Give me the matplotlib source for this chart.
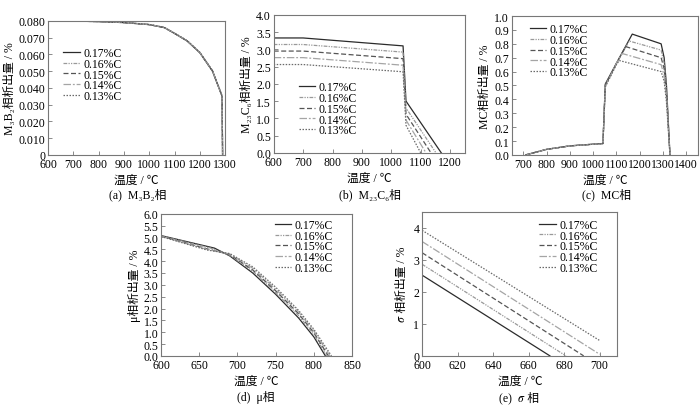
import matplotlib
matplotlib.use('Agg')
import matplotlib.pyplot as plt
from matplotlib.ticker import FuncFormatter

plt.rcParams['font.family'] = ['Liberation Serif', 'Noto Sans CJK SC', 'STIXGeneral', 'DejaVu Serif']
plt.rcParams['font.size'] = 8.5

# 数据
labels = ['0.17%C', '0.16%C', '0.15%C', '0.14%C', '0.13%C']

# (a) M3B2
t_a = [600, 700, 800, 900, 1000, 1060, 1100, 1150, 1200, 1250, 1288, 1290]
m3b2 = [
    [0.0800, 0.0799, 0.0796, 0.0790, 0.0778, 0.0760, 0.0725, 0.0680, 0.0610, 0.0500, 0.0350, 0.0],
    [0.0800, 0.0799, 0.0796, 0.0790, 0.0778, 0.0760, 0.0726, 0.0681, 0.0611, 0.0501, 0.0351, 0.0],
    [0.0800, 0.0799, 0.0796, 0.0790, 0.0778, 0.0760, 0.0726, 0.0681, 0.0611, 0.0502, 0.0352, 0.0],
    [0.0800, 0.0799, 0.0796, 0.0791, 0.0779, 0.0761, 0.0727, 0.0682, 0.0612, 0.0503, 0.0353, 0.0],
    [0.0800, 0.0799, 0.0797, 0.0791, 0.0779, 0.0761, 0.0727, 0.0682, 0.0613, 0.0504, 0.0354, 0.0],
]

# (b) M23C6
t_b = [
    [600, 700, 1040, 1050, 1170],
    [600, 700, 1040, 1050, 1152],
    [600, 700, 1040, 1050, 1135],
    [600, 700, 1040, 1050, 1118],
    [600, 700, 1040, 1050, 1100],
]
m23c6 = [
    [3.33, 3.33, 3.10, 1.50, 0.0],
    [3.14, 3.14, 2.92, 1.30, 0.0],
    [2.95, 2.95, 2.73, 1.12, 0.0],
    [2.76, 2.76, 2.54, 0.95, 0.0],
    [2.56, 2.56, 2.35, 0.80, 0.0],
]

# (c) MC
t_c = [
    [710, 800, 900, 1000, 1042, 1052, 1100, 1168, 1292, 1305, 1315, 1330],
    [710, 800, 900, 1000, 1042, 1052, 1100, 1155, 1292, 1305, 1315, 1330],
    [710, 800, 900, 1000, 1042, 1052, 1100, 1140, 1292, 1305, 1315, 1330],
    [710, 800, 900, 1000, 1042, 1052, 1100, 1125, 1292, 1305, 1315, 1330],
    [710, 800, 900, 1000, 1042, 1052, 1100, 1112, 1292, 1305, 1315, 1330],
]
mc = [
    [0.0, 0.040, 0.065, 0.077, 0.082, 0.51, 0.66, 0.87, 0.80, 0.70, 0.50, 0.0],
    [0.0, 0.040, 0.065, 0.077, 0.082, 0.50, 0.66, 0.82, 0.755, 0.66, 0.47, 0.0],
    [0.0, 0.040, 0.065, 0.077, 0.082, 0.50, 0.66, 0.78, 0.70, 0.62, 0.44, 0.0],
    [0.0, 0.040, 0.065, 0.077, 0.082, 0.49, 0.66, 0.73, 0.65, 0.57, 0.41, 0.0],
    [0.0, 0.040, 0.065, 0.077, 0.082, 0.49, 0.65, 0.68, 0.60, 0.53, 0.38, 0.0],
]

# (d) mu
t_d = [
    [600, 670, 690, 720, 750, 780, 800, 815],
    [600, 665, 690, 720, 750, 780, 800, 817],
    [600, 660, 690, 720, 750, 780, 800, 819],
    [600, 660, 690, 720, 750, 780, 800, 821],
    [600, 660, 690, 720, 750, 780, 800, 823],
]
mu = [
    [5.08, 4.55, 4.22, 3.50, 2.60, 1.60, 0.80, 0.0],
    [5.07, 4.55, 4.25, 3.57, 2.68, 1.70, 0.90, 0.0],
    [5.06, 4.52, 4.28, 3.63, 2.75, 1.78, 0.98, 0.0],
    [5.05, 4.50, 4.30, 3.70, 2.82, 1.85, 1.05, 0.0],
    [5.04, 4.47, 4.32, 3.76, 2.90, 1.92, 1.12, 0.0],
]

# (e) sigma
t_e = [[600, 672], [600, 681], [600, 691], [600, 700], [600, 700]]
sigma = [[2.52, 0.0], [2.86, 0.0], [3.22, 0.0], [3.57, 0.05], [3.92, 0.48]]

colors = ['#2b2b2b', '#999999', '#555555', '#a5a5a5', '#6a6a6a']
styles = ['-', (0, (3, 1, 1, 1, 1, 1)), (0, (4, 2)), (0, (6, 1.5, 1.5, 1.5)), (0, (1.2, 1.2))]

fig = plt.figure(figsize=(7.0, 4.06), dpi=100)
axes = [
    fig.add_axes([0.0686, 0.616, 0.253, 0.330]),
    fig.add_axes([0.391, 0.621, 0.273, 0.340]),
    fig.add_axes([0.731, 0.616, 0.266, 0.342]),
    fig.add_axes([0.230, 0.121, 0.273, 0.350]),
    fig.add_axes([0.603, 0.121, 0.279, 0.355]),
]


def style_ax(ax):
    for s in ax.spines.values():
        s.set_color('#777777')
        s.set_linewidth(0.8)
    ax.tick_params(direction='in', length=3, width=0.6, color='#777777', pad=2)


def draw(ax, ts, ys):
    for i in range(5):
        ax.plot(ts[i], ys[i], color=colors[i], linestyle=styles[i], lw=0.9, label=labels[i])


def legend(ax, loc, anchor):
    ax.legend(loc=loc, bbox_to_anchor=anchor, frameon=False, handlelength=1.4,
              handletextpad=0.3, labelspacing=-0.1, borderpad=0, borderaxespad=0,
              fontsize=8.5)


xlab = '温度 / ℃'

# (a)
ax = axes[0]
draw(ax, [t_a] * 5, m3b2)
ax.set_xlim(600, 1300)
ax.set_ylim(0, 0.080)
ax.set_xticks(range(600, 1301, 100))
ax.set_yticks([i * 0.01 for i in range(9)])
ax.yaxis.set_major_formatter(FuncFormatter(lambda v, p: '0' if v == 0 else '%.3f' % v))
ax.set_ylabel('M₃B₂相析出量 / %', labelpad=2)
legend(ax, 'center left', (0.085, 0.60))
style_ax(ax)

# (b)
ax = axes[1]
draw(ax, t_b, m23c6)
ax.set_xlim(600, 1250)
ax.set_ylim(0, 4.0)
ax.set_xticks(range(600, 1201, 100))
ax.set_yticks([i * 0.5 for i in range(9)])
ax.yaxis.set_major_formatter(FuncFormatter(lambda v, p: '%.1f' % v))
ax.set_ylabel('M₂₃C₆相析出量 / %', labelpad=2)
legend(ax, 'center left', (0.13, 0.32))
style_ax(ax)

# (c)
ax = axes[2]
draw(ax, t_c, mc)
ax.set_xlim(650, 1450)
ax.set_ylim(0, 1.0)
ax.set_xticks(range(700, 1401, 100))
ax.set_yticks([i * 0.1 for i in range(11)])
ax.yaxis.set_major_formatter(FuncFormatter(lambda v, p: '%.1f' % v))
ax.set_ylabel('MC相析出量 / %', labelpad=2)
legend(ax, 'center left', (0.096, 0.75))
style_ax(ax)

# (d)
ax = axes[3]
draw(ax, t_d, mu)
ax.set_xlim(600, 850)
ax.set_ylim(0, 6.0)
ax.set_xticks(range(600, 851, 50))
ax.set_yticks([i * 0.5 for i in range(13)])
ax.yaxis.set_major_formatter(FuncFormatter(lambda v, p: '%.1f' % v))
ax.set_ylabel('μ相析出量 / %', labelpad=2)
legend(ax, 'center right', (0.90, 0.77))
style_ax(ax)

# (e)
ax = axes[4]
draw(ax, t_e, sigma)
ax.set_xlim(600, 710)
ax.set_ylim(0, 4.5)
ax.set_xticks(range(600, 701, 20))
ax.set_yticks(range(0, 5))
ax.set_ylabel('\U0001D70E 相析出量 / %', labelpad=4)
legend(ax, 'center right', (0.90, 0.76))
style_ax(ax)

for ax in axes:
    ax.set_xlabel(xlab, labelpad=3)

captions = [
    (0.197, 0.520, '(a)  M₃B₂相'),
    (0.528, 0.520, '(b)  M₂₃C₆相'),
    (0.866, 0.520, '(c)  MC相'),
    (0.366, 0.020, '(d)  μ相'),
    (0.742, 0.020, '(e)  \U0001D70E 相'),
]
for x, y, s in captions:
    fig.text(x, y, s, ha='center', va='center', fontsize=8.5)

fig.savefig('out.png', dpi=100)
